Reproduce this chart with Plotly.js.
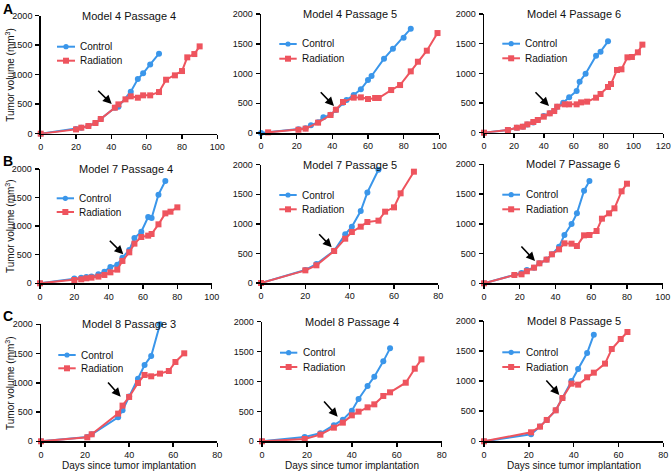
<!DOCTYPE html>
<html>
<head>
<meta charset="utf-8">
<script src="https://cdn.plot.ly/plotly-3.0.1.min.js"></script>
<style>html,body{margin:0;padding:0;background:#fff;}#chart{width:671px;height:472px;}</style>
</head>
<body>
<div id="chart"></div>
<script>
// ---- Data (days since implantation, tumor volume mm^3) ----
const titles = ["Model 4 Passage 4","Model 4 Passage 5","Model 4 Passage 6",
                "Model 7 Passage 4","Model 7 Passage 5","Model 7 Passage 6",
                "Model 8 Passage 3","Model 8 Passage 4","Model 8 Passage 5"];
const xMax = [100,100,120,100,80,100,80,80,80];
const yTicks = [0,500,1000,1500,2000];

const m4p4CtrlDay = [0,20,23,27,31,34,42,44,51,55,58,62,67];
const m4p4CtrlVol = [0,79,102,130,181,249,441,458,712,927,1023,1175,1356];
const m4p4RadDay  = [0,20,23,27,31,34,42,44,48,51,55,58,62,67,71,76,80,83,87,90];
const m4p4RadVol  = [0,73,102,130,181,249,441,497,582,633,610,650,650,706,915,989,1062,1294,1350,1480];

const m4p5CtrlDay = [0,21,25,28,32,35,39,42,46,48,52,56,60,62,69,74,80,84];
const m4p5CtrlVol = [0,62,80,129,180,263,305,386,510,554,638,734,890,958,1249,1417,1602,1753];
const m4p5RadDay  = [4,21,25,32,39,42,46,52,56,60,64,66,73,78,84,88,93,99];
const m4p5RadVol  = [11,55,73,174,302,392,521,594,599,571,588,588,722,806,1036,1198,1383,1680];

const m4p6CtrlDay = [0,16,22,26,29,33,36,40,44,47,49,53,57,62,64,68,75,78,83];
const m4p6CtrlVol = [0,45,84,101,140,170,214,281,326,365,438,506,596,703,860,995,1298,1366,1540];
const m4p6RadDay  = [0,16,22,26,29,33,36,40,44,47,49,54,57,62,65,69,75,78,83,85,89,92,96,99,103,106];
const m4p6RadVol  = [0,45,84,101,140,180,214,270,326,365,438,478,478,478,511,523,590,652,770,820,1057,1068,1270,1276,1354,1484];

const m7p4CtrlDay = [0,20,24,27,30,34,37.5,41,45,48,52,55,59,63,65,69,73];
const m7p4CtrlVol = [0,82,99,111,117,157,204,286,326,449,583,793,904,1160,1143,1551,1790];
const m7p4RadDay  = [0,20,24,27,30,34,37.5,41,45,48,52,55,59,63,65,69,73,76,80];
const m7p4RadVol  = [0,58,70,87,99,117,146,192,239,391,542,694,810,834,863,1032,1224,1253,1329];

const m7p5CtrlDay = [0,20,25,33,38,41,45,48,53];
const m7p5CtrlVol = [0,220,321,546,823,952,1217,1532,1915];
const m7p5RadDay  = [0,20,25,33,38,41,45,48,53,56,60,63,69];
const m7p5RadVol  = [0,214,299,541,749,862,952,1031,1054,1206,1279,1516,1882];

const m7p6CtrlDay = [0,17,21,24,28,31,35,38,42,45,49,52,56,59];
const m7p6CtrlVol = [0,140,174,224,263,336,398,487,616,812,997,1176,1557,1719];
const m7p6RadDay  = [0,17,21,24,28,31,35,38,42,45,49,52,56,59,63,66,70,73,77,80];
const m7p6RadVol  = [0,140,151,202,263,336,398,487,571,672,666,627,806,812,879,1086,1176,1260,1546,1674];

const m8p3CtrlDay = [0,21,23,35,37,40,44,47,50,54];
const m8p3CtrlVol = [0,74,120,410,530,764,1071,1305,1459,2000];
const m8p3RadDay  = [0,21,23,35,37,40,44,47,50,54,58,61,65];
const m8p3RadVol  = [0,68,120,473,610,758,997,1134,1111,1157,1202,1356,1504];

const m8p4CtrlDay = [0,19,26,32,36,40,43,47,50,54,57];
const m8p4CtrlVol = [0,72,134,267,362,512,707,925,1081,1337,1554];
const m8p4RadDay  = [0,19,26,32,36,40,43,47,50,54,57,64,68,71];
const m8p4RadVol  = [0,39,111,228,312,434,496,568,618,758,819,980,1214,1370];

const m8p5CtrlDay = [0,21,25,28,32,35,39,42,46,49];
const m8p5CtrlVol = [0,116,244,355,515,720,1003,1202,1468,1773];
const m8p5RadDay  = [0,21,25,28,32,35,39,42,46,49,54,57,61,64];
const m8p5RadVol  = [0,150,244,355,515,720,958,942,1064,1141,1291,1535,1701,1817];

const seriesNames = ["Control","Radiation"];

// ---- Layout geometry (pixels) ----
const W = 671, H = 472;
const panels = [
  {ctrl:[m4p4CtrlDay,m4p4CtrlVol], rad:[m4p4RadDay,m4p4RadVol], x:[40.7,217.3], y:[15.7,133.7], leg:[57,75,78.3,46.7,60.7], arrow:[96.7,89.3,111.7,104]},
  {ctrl:[m4p5CtrlDay,m4p5CtrlVol], rad:[m4p5RadDay,m4p5RadVol], x:[261,439.3], y:[14,133], leg:[279.3,296.7,300,44,58.7], arrow:[319.3,90.7,334,106]},
  {ctrl:[m4p6CtrlDay,m4p6CtrlVol], rad:[m4p6RadDay,m4p6RadVol], x:[484,663.3], y:[14,132.7], leg:[502.3,520,523.3,43.7,58.3], arrow:[534,90.7,549,106]},
  {ctrl:[m7p4CtrlDay,m7p4CtrlVol], rad:[m7p4RadDay,m7p4RadVol], x:[40,211.7], y:[169,283.3], leg:[56.7,74,77.3,198.3,212], arrow:[108.3,239.3,123.3,254.3]},
  {ctrl:[m7p5CtrlDay,m7p5CtrlVol], rad:[m7p5RadDay,m7p5RadVol], x:[261,438.3], y:[164.7,283], leg:[279.3,296.7,300,195,209.3], arrow:[317.7,232.7,331.7,247.3]},
  {ctrl:[m7p6CtrlDay,m7p6CtrlVol], rad:[m7p6RadDay,m7p6RadVol], x:[484,662.7], y:[164.3,283.3], leg:[502.3,520,523.7,194.7,209.3], arrow:[520,245,535,261]},
  {ctrl:[m8p3CtrlDay,m8p3CtrlVol], rad:[m8p3RadDay,m8p3RadVol], x:[41,217.3], y:[324.3,441.3], leg:[58.3,75.7,79.3,355,368.3], arrow:[106.7,381,120.7,396.7]},
  {ctrl:[m8p4CtrlDay,m8p4CtrlVol], rad:[m8p4RadDay,m8p4RadVol], x:[262,441.7], y:[321.7,441.3], leg:[280,297.3,301,352.7,367], arrow:[322.7,400,337.7,416.7]},
  {ctrl:[m8p5CtrlDay,m8p5CtrlVol], rad:[m8p5RadDay,m8p5RadVol], x:[484,663.3], y:[321,441.3], leg:[502.3,520,523.7,352.3,367], arrow:[545,379,559.3,395]}
];

const BLUE = "rgb(58,150,234)";
const RED = "rgb(238,84,94)";
const FONT = "Liberation Sans, Arial, sans-serif";
const px = v => v / W;
const py = v => 1 - v / H;

const data = [];
const layout = {
  width: W, height: H,
  margin: {l:0, r:0, t:0, b:0},
  paper_bgcolor: "#fff", plot_bgcolor: "#fff",
  showlegend: false,
  font: {family: FONT, color: "#111"},
  annotations: [], shapes: []
};

panels.forEach((p, i) => {
  const n = i === 0 ? "" : String(i + 1);
  const xa = "x" + n, ya = "y" + n;
  data.push({x: p.ctrl[0], y: p.ctrl[1], xaxis: xa, yaxis: ya, type: "scatter", mode: "lines+markers",
             name: seriesNames[0], line: {color: BLUE, width: 2}, marker: {color: BLUE, size: 6, symbol: "circle"}, cliponaxis: false});
  data.push({x: p.rad[0], y: p.rad[1], xaxis: xa, yaxis: ya, type: "scatter", mode: "lines+markers",
             name: seriesNames[1], line: {color: RED, width: 2}, marker: {color: RED, size: 6, symbol: "square"}, cliponaxis: false});
  const axCommon = {showline: true, linecolor: "#000", linewidth: 1.5, ticks: "outside", ticklen: 4, tickwidth: 1.5,
                    tickcolor: "#000", showgrid: false, zeroline: false, tickfont: {family: FONT, size: 9, color: "#111"}, fixedrange: true};
  layout["xaxis" + n] = Object.assign({}, axCommon, {domain: [px(p.x[0]), px(p.x[1])], range: [0, xMax[i]], dtick: 20, tick0: 0, anchor: ya});
  layout["yaxis" + n] = Object.assign({}, axCommon, {domain: [py(p.y[1]), py(p.y[0])], range: [0, 2000], tickvals: yTicks, anchor: xa, ticklabelstandoff: 1});
  // title
  layout.annotations.push({text: titles[i], xref: "paper", yref: "paper", x: px((p.x[0] + p.x[1]) / 2), y: py(p.y[0]),
                           xanchor: "center", yanchor: "middle", showarrow: false, font: {family: FONT, size: 11, color: "#111"}});
  // legend
  const [l0, l1, tx, yc, yr] = p.leg;
  [[yc, BLUE, "circle", seriesNames[0]], [yr, RED, "rect", seriesNames[1]]].forEach(([yy, col, sym, label]) => {
    layout.shapes.push({type: "line", xref: "paper", yref: "paper", x0: px(l0), x1: px(l1), y0: py(yy), y1: py(yy), line: {color: col, width: 2}});
    const cx = (l0 + l1) / 2, r = sym === "circle" ? 2.6 : 3;
    layout.shapes.push({type: sym, xref: "paper", yref: "paper", x0: px(cx - r), x1: px(cx + r), y0: py(yy + r), y1: py(yy - r),
                        fillcolor: col, line: {color: col, width: 0}});
    layout.annotations.push({text: label, xref: "paper", yref: "paper", x: px(tx), y: py(yy), xanchor: "left", yanchor: "middle",
                             showarrow: false, font: {family: FONT, size: 10, color: "#111"}});
  });
  // arrow (treatment start)
  const [ax0, ay0, ax1, ay1] = p.arrow;
  layout.annotations.push({text: "", xref: "paper", yref: "paper", x: px(ax1), y: py(ay1), ax: ax0 - ax1, ay: ay0 - ay1,
                           showarrow: true, arrowhead: 2, arrowsize: 1.1, arrowwidth: 1.6, arrowcolor: "#000"});
});

// axis titles (shared)
const yTitleRows = [74.7, 226, 383];
yTitleRows.forEach(yc => layout.annotations.push({text: "Tumor volume (mm<sup>3</sup>)", xref: "paper", yref: "paper",
  x: px(10), y: py(yc), xanchor: "center", yanchor: "middle", textangle: -90, showarrow: false, font: {family: FONT, size: 10, color: "#111"}}));
[129, 352, 574].forEach(xc => layout.annotations.push({text: "Days since tumor implantation", xref: "paper", yref: "paper",
  x: px(xc), y: py(465), xanchor: "center", yanchor: "middle", showarrow: false, font: {family: FONT, size: 10, color: "#111"}}));
// panel letters
[["A", 8, 0], ["B", 8, 152], ["C", 8, 307]].forEach(([t, xx, yy]) => layout.annotations.push({text: "<b>" + t + "</b>",
  xref: "paper", yref: "paper", x: px(xx), y: py(yy), xanchor: "center", yanchor: "top", borderpad: 0, showarrow: false,
  font: {family: FONT, size: 14, color: "#000"}}));

Plotly.newPlot("chart", data, layout, {displayModeBar: false, staticPlot: true});
</script>
</body>
</html>
